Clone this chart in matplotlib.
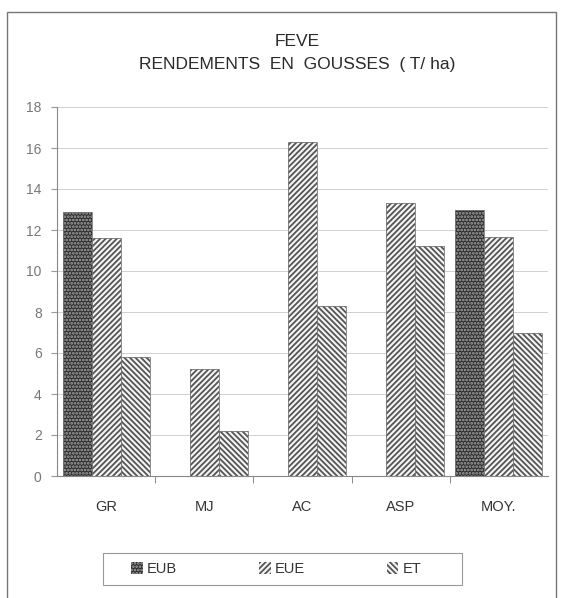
import matplotlib.pyplot as plt
import numpy as np
from matplotlib.patches import Patch, Rectangle
from matplotlib import font_manager

# rendement en gousses (T/ha) par site
categories = ['GR', 'MJ', 'AC', 'ASP', 'MOY.']
series_names = ['EUB', 'EUE', 'ET']
eub = [12.9, np.nan, np.nan, np.nan, 13.0]
eue = [11.6, 5.2, 16.3, 13.3, 11.65]
et = [5.8, 2.2, 8.3, 11.2, 7.0]

narrow = 'Liberation Sans Narrow'
names = {f.name for f in font_manager.fontManager.ttflist}
if narrow not in names:
    narrow = 'Liberation Sans'
plt.rcParams['font.family'] = [narrow, 'DejaVu Sans']
plt.rcParams['hatch.linewidth'] = 1.3

fig = plt.figure(figsize=(5.61, 5.98), dpi=100)
ax = fig.add_axes([57 / 561, 1 - 476 / 598, 491 / 561, 369 / 598])

x = np.arange(len(categories))
w = 0.295
styles = [
    dict(facecolor='#2e2e2e', hatch='.....', hatch_color='#a8a8a8'),
    dict(facecolor='#f4f4f4', hatch='//////', hatch_color='#555555'),
    dict(facecolor='#f4f4f4', hatch='\\\\\\\\\\\\', hatch_color='#555555'),
]
handles = []
for i, (vals, st) in enumerate(zip([eub, eue, et], styles)):
    pos = x + (i - 1) * w
    # hatched fill, then a thin outline on top
    ax.bar(pos, vals, w, color=st['facecolor'], hatch=st['hatch'],
           edgecolor=st['hatch_color'], linewidth=0, zorder=2)
    ax.bar(pos, vals, w, fill=False, edgecolor='#777777', linewidth=0.6, zorder=3)
    handles.append(Patch(facecolor=st['facecolor'], hatch=st['hatch'],
                         edgecolor=st['hatch_color'], linewidth=0))

ax.set_xlim(-0.5, len(categories) - 0.5)
ax.set_ylim(0, 18)
ax.set_yticks(np.arange(0, 19, 2))
ax.yaxis.grid(True, color='#d0d0d0', linewidth=0.7, zorder=0)
ax.set_axisbelow(True)

ax.set_xticks(x)
ax.set_xticklabels(categories)
ax.set_xticks(np.arange(0.5, len(categories) - 0.5, 1), minor=True)
ax.tick_params(axis='x', which='major', length=0, pad=17, labelsize=10.5,
               labelcolor='#333333')
ax.tick_params(axis='x', which='minor', length=5, color='#777777')
ax.tick_params(axis='y', length=4, color='#999999', labelsize=10,
               labelcolor='#777777', pad=7)

for side in ['top', 'right']:
    ax.spines[side].set_visible(False)
for side in ['left', 'bottom']:
    ax.spines[side].set_color('#888888')
    ax.spines[side].set_linewidth(0.8)

fig.text(0.53, 1 - 42 / 598, 'FEVE', ha='center', va='center',
         fontsize=12.5, color='#2a2a2a')
fig.text(0.53, 1 - 64 / 598, 'RENDEMENTS  EN  GOUSSES  ( T/ ha)',
         ha='center', va='center', fontsize=12.5, color='#2a2a2a')

# legend box drawn separately, entries spread across it
fig.patches.append(Rectangle((103 / 561, 1 - 585 / 598), 359 / 561, 32 / 598,
                             transform=fig.transFigure, fill=False,
                             edgecolor='#999999', linewidth=0.8))
leg = fig.legend(handles, series_names, loc='center left', ncol=3,
                 bbox_to_anchor=(131 / 561, 1 - 569 / 598),
                 handlelength=0.8, handleheight=0.8, handletextpad=0.3,
                 columnspacing=5.6, borderpad=0, borderaxespad=0,
                 fontsize=10.5, frameon=False)
for t in leg.get_texts():
    t.set_color('#333333')

# outer frame of the sheet
fig.patches.append(Rectangle((7 / 561, -0.05), 549 / 561, 1.05 - 12 / 598,
                             transform=fig.transFigure, fill=False,
                             edgecolor='#777777', linewidth=1.0))

fig.savefig('out.png', dpi=100)
